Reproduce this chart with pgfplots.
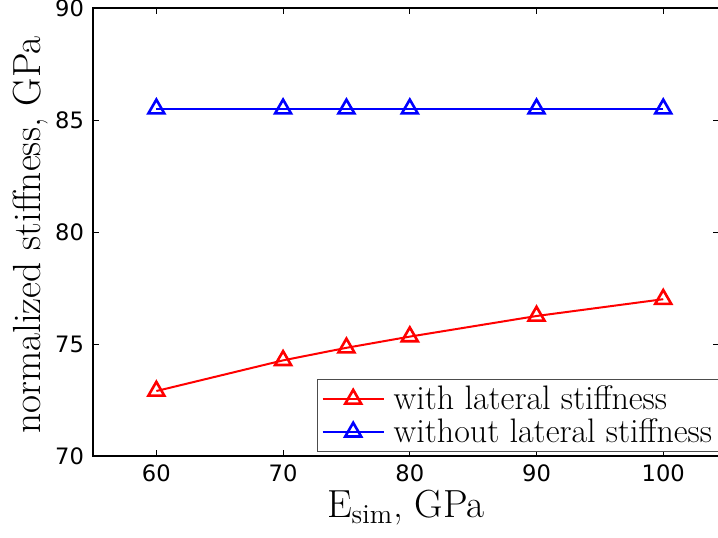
\documentclass[border=0pt]{standalone}
\usepackage{fontspec}
\usepackage{pgfplots}
\pgfplotsset{compat=1.18}
\newfontfamily\tickfont{DejaVu Sans}
\begin{document}
\begin{tikzpicture}
\begin{axis}[
  name=ax,
  scale only axis,
  width=313pt, height=224pt,
  xmin=55, xmax=104.4,
  ymin=70, ymax=90,
  xtick={60,70,80,90,100},
  ytick={70,75,80,85,90},
  tick align=inside,
  major tick length=3pt,
  tick style={black, line width=0.5pt},
  axis line style={line width=0.6pt},
  /pgf/number format/assume math mode=true,
  tick label style={font=\tickfont\fontsize{11.3}{13}\selectfont},
  xticklabel style={yshift=-1pt},
  yticklabel style={xshift=-1pt},
  xlabel={E$_{\mathrm{sim}}$, GPa},
  ylabel={normalized stiffness, GPa},
  label style={font=\fontsize{19.6}{22}\selectfont},
  xlabel style={yshift=3pt},
  ylabel style={yshift=-3.5pt, xshift=-1.5pt},
  legend style={font=\fontsize{17}{20}\selectfont, at={(0.358,0.009)}, anchor=south west, draw=black!70, line width=0.6pt, row sep=-1pt, inner sep=2pt, inner ysep=1pt},
  legend cell align=left,
  legend image code/.code={\draw[mark repeat=2,mark phase=2] plot coordinates {(0pt,0pt) (15.25pt,0pt) (30.5pt,0pt)}; \path (33pt,0pt);},
]
\addplot[red, line width=1pt, mark=triangle, mark size=4.6pt, mark options={line width=1.3pt, fill=white}]
  coordinates {(60,72.9) (70,74.27) (75,74.83) (80,75.33) (90,76.25) (100,77.0)};
\addlegendentry{with lateral stiffness}
\addplot[blue, line width=1pt, mark=triangle, mark size=4.6pt, mark options={line width=1.3pt, fill=white}]
  coordinates {(60,85.5) (70,85.5) (75,85.5) (80,85.5) (90,85.5) (100,85.5)};
\addlegendentry{without lateral stiffness}
\end{axis}
\pgfresetboundingbox
\path[use as bounding box] ([xshift=-46.5pt,yshift=-40.5pt]ax.south west) rectangle ([xshift=-0.5pt,yshift=4pt]ax.north east);
\end{tikzpicture}
\end{document}
